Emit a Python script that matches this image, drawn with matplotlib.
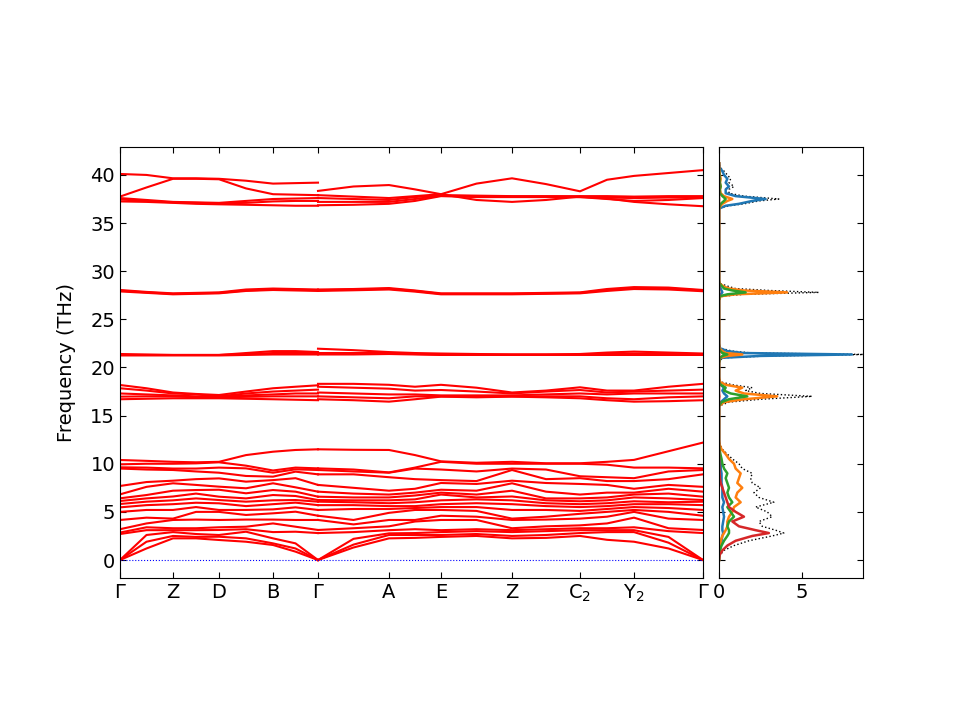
import numpy as np
import matplotlib
matplotlib.use("Agg")
import matplotlib.pyplot as plt

# ---------------- path / ticks ----------------
tick_labels = ["Γ", "Z", "D", "B", "Γ", "A", "E", "Z",
               r"$\mathregular{C_2}$", r"$\mathregular{Y_2}$", "Γ"]
tick_pos = [0, 53, 99, 153, 198, 269, 321, 392, 460, 514, 583]

# sample q-points along the two path pieces
qA = [0, 26.5, 53, 76, 99, 126, 153, 175.5, 198]
qB = [198, 233.5, 269, 295, 321, 356.5, 392, 426, 460, 487, 514, 548.5, 583]

# ---------------- low-frequency bands (column = q-point, sorted values) ----------------
low_A_cols = [
    [0, 0, 0, 2.7, 2.85, 3.2, 4.16, 5.0, 5.47, 5.82, 6.13, 6.41, 6.82, 7.69, 9.5, 9.63, 9.94, 10.39],
    [1.2, 1.9, 2.6, 3.1, 3.4, 3.8, 4.4, 5.2, 5.7, 6.06, 6.4, 6.75, 7.6, 8.1, 9.4, 9.6, 10.0, 10.3],
    [2.25, 2.5, 2.9, 3.1, 3.3, 4.16, 4.3, 5.2, 5.8, 6.2, 6.6, 7.2, 7.97, 8.24, 9.35, 9.5, 10.0, 10.2],
    [2.25, 2.4, 2.7, 3.1, 3.3, 4.2, 5.0, 5.5, 5.95, 6.4, 6.9, 7.27, 7.8, 8.4, 9.2, 9.5, 10.04, 10.15],
    [2.08, 2.42, 2.6, 3.12, 3.4, 4.16, 5.0, 5.2, 5.89, 6.23, 6.58, 7.3, 7.62, 8.48, 9.07, 9.6, 10.15, 10.2],
    [1.9, 2.25, 2.94, 3.2, 3.46, 4.2, 4.68, 5.2, 5.6, 6.06, 6.4, 6.93, 7.45, 8.14, 8.73, 9.52, 9.8, 10.9],
    [1.56, 1.73, 2.25, 2.9, 3.8, 4.2, 4.85, 5.26, 5.8, 6.2, 6.75, 7.27, 7.97, 8.3, 8.66, 9.07, 9.3, 11.25],
    [0.87, 1.2, 1.73, 2.94, 3.46, 4.16, 5.02, 5.47, 5.96, 6.23, 6.65, 7.1, 7.55, 8.5, 9.18, 9.42, 9.6, 11.43],
    [0, 0, 0, 2.8, 3.12, 4.16, 4.6, 5.2, 5.7, 6.06, 6.23, 6.58, 7.1, 7.8, 8.9, 9.35, 9.52, 11.5],
]
low_B_cols = [
    [0, 0, 0, 2.8, 3.12, 4.16, 4.6, 5.2, 5.7, 6.06, 6.23, 6.58, 7.1, 7.8, 8.9, 9.35, 9.52, 11.5],
    [1.3, 1.6, 2.2, 2.9, 3.3, 3.7, 4.16, 5.3, 5.7, 6.0, 6.2, 6.5, 6.9, 7.5, 8.9, 9.2, 9.4, 11.45],
    [2.25, 2.6, 2.77, 3.1, 3.5, 4.16, 4.9, 5.3, 5.6, 5.9, 6.2, 6.5, 6.8, 7.2, 8.6, 9.07, 9.1, 11.43],
    [2.3, 2.6, 2.8, 3.2, 4.0, 4.16, 5.2, 5.4, 5.6, 6.0, 6.3, 6.7, 7.0, 7.4, 8.4, 9.5, 9.6, 10.9],
    [2.4, 2.6, 2.9, 3.1, 4.16, 4.6, 5.2, 5.5, 5.8, 6.2, 6.8, 7.0, 7.3, 8.0, 8.3, 9.4, 10.2, 10.25],
    [2.5, 2.7, 3.0, 3.2, 4.16, 4.5, 5.1, 5.5, 5.9, 6.3, 6.5, 6.8, 7.2, 7.9, 8.2, 9.2, 10.0, 10.1],
    [2.25, 2.5, 2.9, 3.1, 3.3, 4.16, 4.3, 5.2, 5.8, 6.2, 6.6, 7.2, 7.97, 8.24, 9.35, 9.5, 10.0, 10.2],
    [2.3, 2.6, 3.0, 3.2, 3.5, 4.2, 4.5, 5.2, 5.6, 5.9, 6.2, 6.4, 7.1, 8.0, 8.4, 9.4, 10.0, 10.05],
    [2.5, 2.8, 3.1, 3.3, 3.6, 4.3, 4.8, 5.1, 5.5, 5.8, 6.1, 6.4, 6.8, 7.9, 8.5, 8.7, 10.0, 10.05],
    [2.1, 2.9, 3.1, 3.3, 3.8, 4.5, 5.0, 5.3, 5.6, 5.9, 6.2, 6.5, 7.0, 7.8, 8.2, 8.6, 9.9, 10.2],
    [1.9, 2.9, 3.1, 3.4, 4.4, 5.0, 5.2, 5.5, 5.8, 6.1, 6.5, 6.8, 7.0, 7.4, 8.2, 8.5, 9.6, 10.4],
    [1.2, 1.8, 2.4, 3.0, 3.3, 4.3, 5.0, 5.4, 5.8, 6.0, 6.4, 6.9, 7.4, 7.8, 8.4, 9.2, 9.6, 11.3],
    [0, 0, 0, 2.8, 3.12, 4.16, 4.6, 5.2, 5.7, 6.06, 6.23, 6.58, 7.1, 7.6, 8.9, 9.35, 9.52, 12.2],
]

# ---------------- higher band groups (row = band) ----------------
g2_A = [
    [18.18, 17.84, 17.4, 17.25, 17.14, 17.5, 17.84, 18.0, 18.15],
    [17.84, 17.6, 17.3, 17.2, 17.0, 17.3, 17.5, 17.6, 17.7],
    [17.3, 17.2, 17.1, 17.0, 16.95, 17.1, 17.2, 17.3, 17.3],
    [16.97, 17.0, 17.0, 16.9, 16.9, 16.95, 17.0, 17.0, 17.0],
    [16.7, 16.75, 16.8, 16.8, 16.8, 16.75, 16.7, 16.65, 16.6],
]
g2_B = [
    [18.3, 18.3, 18.2, 18.0, 18.2, 17.9, 17.4, 17.6, 17.94, 17.6, 17.6, 18.0, 18.3],
    [18.0, 17.9, 17.8, 17.6, 17.66, 17.5, 17.3, 17.5, 17.66, 17.4, 17.5, 17.6, 17.7],
    [17.4, 17.3, 17.2, 17.2, 17.1, 17.1, 17.1, 17.2, 17.3, 17.2, 17.3, 17.3, 17.3],
    [17.0, 16.9, 16.8, 17.0, 17.0, 17.0, 17.0, 17.0, 17.0, 16.8, 16.7, 16.9, 17.0],
    [16.7, 16.6, 16.45, 16.7, 16.97, 16.9, 16.97, 16.9, 16.8, 16.6, 16.45, 16.5, 16.6],
]
g3_A = [
    [21.4, 21.35, 21.3, 21.3, 21.3, 21.5, 21.7, 21.7, 21.6],
    [21.3, 21.3, 21.3, 21.3, 21.3, 21.4, 21.5, 21.5, 21.5],
    [21.25, 21.25, 21.25, 21.25, 21.25, 21.3, 21.35, 21.35, 21.35],
]
g3_B = [
    [21.95, 21.8, 21.6, 21.5, 21.45, 21.4, 21.35, 21.35, 21.4, 21.55, 21.65, 21.55, 21.45],
    [21.5, 21.5, 21.5, 21.4, 21.35, 21.35, 21.35, 21.35, 21.35, 21.4, 21.45, 21.4, 21.35],
    [21.35, 21.35, 21.4, 21.35, 21.3, 21.3, 21.3, 21.3, 21.3, 21.3, 21.3, 21.3, 21.3],
]
g4_A = [
    [28.05, 27.85, 27.7, 27.75, 27.8, 28.1, 28.2, 28.15, 28.1],
    [27.98, 27.8, 27.65, 27.7, 27.75, 28.0, 28.1, 28.08, 28.02],
    [27.9, 27.75, 27.6, 27.65, 27.7, 27.95, 28.05, 28.0, 27.95],
]
g4_B = [
    [28.1, 28.15, 28.25, 28.0, 27.7, 27.7, 27.7, 27.75, 27.8, 28.15, 28.35, 28.3, 28.05],
    [28.02, 28.1, 28.18, 27.95, 27.65, 27.65, 27.65, 27.7, 27.75, 28.05, 28.25, 28.2, 28.0],
    [27.95, 28.02, 28.1, 27.88, 27.6, 27.6, 27.6, 27.65, 27.7, 27.95, 28.15, 28.1, 27.92],
]
g5_A = [
    [40.1, 40.0, 39.65, 39.65, 39.6, 39.4, 39.1, 39.15, 39.2],
    [37.75, 38.7, 39.6, 39.6, 39.55, 38.6, 38.0, 37.95, 37.9],
    [37.6, 37.4, 37.2, 37.15, 37.1, 37.3, 37.5, 37.55, 37.6],
    [37.45, 37.3, 37.15, 37.1, 37.05, 37.1, 37.25, 37.3, 37.3],
    [37.25, 37.2, 37.1, 37.0, 36.95, 36.9, 36.85, 36.8, 36.8],
]
g5_B = [
    [38.34, 38.8, 38.95, 38.5, 38.0, 37.4, 37.2, 37.4, 37.75, 37.55, 37.2, 36.95, 36.75],
    [37.9, 37.75, 37.6, 37.8, 38.0, 39.1, 39.65, 39.05, 38.3, 39.5, 39.9, 40.2, 40.5],
    [37.6, 37.5, 37.4, 37.7, 37.9, 37.85, 37.8, 37.8, 37.8, 37.8, 37.75, 37.8, 37.8],
    [37.2, 37.2, 37.2, 37.5, 37.85, 37.8, 37.75, 37.75, 37.7, 37.65, 37.6, 37.65, 37.65],
    [36.85, 36.9, 37.0, 37.3, 37.8, 37.7, 37.7, 37.7, 37.7, 37.5, 37.3, 37.4, 37.6],
]

# ---------------- DOS (frequency grid, THz) ----------------
dos_freq = [0, 0.5, 1.0, 1.5, 2.0, 2.5, 2.8, 3.1, 3.5, 4.0, 4.5, 5.0, 5.5, 6.0, 6.5,
            7.0, 7.5, 8.0, 8.5, 9.0, 9.5, 10.0, 10.5, 11.0, 11.5, 12.0, 12.5,
            13.0, 15.5,
            16.0, 16.4, 16.7, 17.0, 17.3, 17.6, 17.9, 18.2, 18.5, 19.0,
            20.5, 21.0, 21.2, 21.35, 21.5, 21.7, 22.0, 22.5,
            27.0, 27.4, 27.6, 27.8, 28.0, 28.2, 28.4, 28.7, 29.0,
            36.0, 36.5, 36.8, 37.0, 37.3, 37.5, 37.8, 38.1, 38.5, 38.8, 39.2, 39.6,
            40.0, 40.4, 40.8, 41.2]
dos_total = [0, 0.05, 0.3, 0.9, 1.8, 3.2, 3.9, 3.4, 2.6, 2.4, 3.2, 2.9, 2.2, 3.3, 2.4,
             2.1, 2.5, 2.0, 1.9, 2.0, 1.4, 1.2, 0.8, 0.5, 0.2, 0.05, 0,
             0, 0,
             0, 0.6, 2.5, 5.6, 2.5, 1.6, 2.0, 0.8, 0.1, 0,
             0, 0.2, 3.0, 8.9, 2.0, 0.8, 0.1, 0,
             0, 0.2, 1.5, 6.0, 3.0, 1.0, 0.6, 0.1, 0,
             0, 0, 0.6, 1.5, 2.4, 3.6, 1.5, 0.6, 0.6, 0.9, 0.6, 0.7,
             0.5, 0.3, 0.05, 0]
dos_blue = [0, 0.01, 0.05, 0.1, 0.15, 0.2, 0.25, 0.2, 0.2, 0.25, 0.3, 0.25, 0.2, 0.3, 0.2,
            0.2, 0.2, 0.15, 0.15, 0.15, 0.1, 0.1, 0.05, 0.05, 0.02, 0, 0,
            0, 0,
            0, 0.1, 0.3, 0.5, 0.3, 0.2, 0.3, 0.1, 0, 0,
            0, 0.1, 2.5, 8.0, 1.5, 0.5, 0.05, 0,
            0, 0.02, 0.1, 0.2, 0.15, 0.1, 0.05, 0, 0,
            0, 0, 0.4, 1.2, 2.0, 2.8, 1.0, 0.4, 0.4, 0.6, 0.4, 0.5,
            0.3, 0.2, 0.02, 0]
dos_orange = [0, 0.01, 0.03, 0.08, 0.1, 0.2, 0.3, 0.4, 0.5, 0.5, 0.6, 0.8, 0.9, 1.3, 1.0,
              1.1, 1.4, 1.1, 1.2, 1.3, 1.0, 0.9, 0.6, 0.4, 0.15, 0.03, 0,
              0, 0,
              0, 0.3, 1.5, 3.5, 1.5, 1.0, 1.4, 0.4, 0.05, 0,
              0, 0.05, 0.5, 1.4, 0.4, 0.2, 0.02, 0,
              0, 0.1, 1.0, 4.1, 1.5, 0.6, 0.3, 0.05, 0,
              0, 0, 0.1, 0.2, 0.5, 0.8, 0.3, 0.1, 0.05, 0.1, 0.05, 0.1,
              0.05, 0.02, 0, 0]
dos_green = [0, 0.01, 0.05, 0.15, 0.3, 0.5, 0.6, 0.6, 0.5, 0.6, 0.9, 0.7, 0.5, 0.8, 0.6,
             0.5, 0.6, 0.5, 0.4, 0.5, 0.3, 0.2, 0.15, 0.08, 0.03, 0, 0,
             0, 0,
             0, 0.15, 0.6, 1.7, 0.7, 0.3, 0.4, 0.1, 0, 0,
             0, 0.05, 0.2, 0.5, 0.2, 0.08, 0, 0,
             0, 0.05, 0.5, 1.6, 0.8, 0.3, 0.2, 0.03, 0,
             0, 0, 0.05, 0.1, 0.3, 0.4, 0.2, 0.05, 0.05, 0.1, 0.05, 0.05,
             0.03, 0.01, 0, 0]
dos_red = [0, 0.03, 0.2, 0.5, 1.0, 2.0, 3.0, 2.2, 1.2, 0.8, 1.5, 1.0, 0.6, 0.5, 0.4,
           0.3, 0.2, 0.1, 0.05, 0.03, 0.02, 0.01, 0, 0, 0, 0, 0,
           0, 0,
           0, 0, 0, 0.02, 0, 0, 0, 0, 0, 0,
           0, 0, 0, 0.01, 0, 0, 0, 0,
           0, 0, 0, 0.01, 0, 0, 0, 0, 0,
           0, 0, 0, 0, 0, 0.01, 0, 0, 0, 0, 0, 0,
           0, 0, 0, 0]

# ---------------- figure ----------------
FS = 14
fig = plt.figure(figsize=(9.6, 7.2), dpi=100)
ax = fig.add_axes([0.125, 0.1972, 0.6073, 0.5986])
ax2 = fig.add_axes([0.749, 0.1972, 0.15, 0.5986])

band_kw = dict(color="red", lw=1.5)
for cols, q in ((low_A_cols, qA), (low_B_cols, qB)):
    arr = np.array(cols).T
    for row in arr:
        ax.plot(q, row, **band_kw)
for grp, q in ((g2_A, qA), (g3_A, qA), (g4_A, qA), (g5_A, qA),
               (g2_B, qB), (g3_B, qB), (g4_B, qB), (g5_B, qB)):
    for row in grp:
        ax.plot(q, row, **band_kw)

ax.axhline(0, color="blue", lw=0.8, ls=":")
ax.set_xlim(tick_pos[0], tick_pos[-1])
ylim = (-1.87, 42.9)
ax.set_ylim(*ylim)
ax.set_xticks(tick_pos)
ax.set_xticklabels(tick_labels, fontsize=FS)
ax.set_yticks(range(0, 41, 5))
ax.tick_params(axis="y", labelsize=FS)
ax.tick_params(direction="in", top=True, right=True, length=4.5)
ax.set_ylabel("Frequency (THz)", fontsize=FS, labelpad=10)

ax2.plot(dos_total, dos_freq, color="black", ls=":", lw=1.0)
ax2.plot(dos_blue, dos_freq, color="C0", lw=1.8)
ax2.plot(dos_orange, dos_freq, color="C1", lw=1.8)
ax2.plot(dos_green, dos_freq, color="C2", lw=1.8)
ax2.plot(dos_red, dos_freq, color="C3", lw=1.8)
ax2.set_ylim(*ylim)
ax2.set_xlim(0, 8.67)
ax2.set_xticks([0, 5])
ax2.set_yticks(range(0, 41, 5))
ax2.tick_params(axis="x", labelsize=FS)
ax2.tick_params(direction="in", top=True, right=True, labelleft=False, length=4.5)

fig.savefig("out.png", dpi=100)
